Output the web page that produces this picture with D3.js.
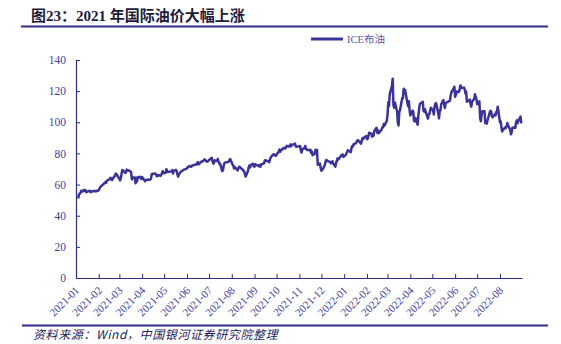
<!DOCTYPE html>
<html><head><meta charset="utf-8">
<script src="https://cdn.jsdelivr.net/npm/d3@7"></script>
<style>
html,body{margin:0;padding:0;background:#fff;}
svg{display:block;}
</style></head>
<body>
<svg id="c" width="561" height="344"></svg>
<script>
// ---------- data ----------
const months = ["2021-01","2021-02","2021-03","2021-04","2021-05","2021-06","2021-07","2021-08","2021-09","2021-10","2021-11","2021-12",
                "2022-01","2022-02","2022-03","2022-04","2022-05","2022-06","2022-07","2022-08"];
const tradingDays = [
 [4,5,6,7,8,11,12,13,14,15,19,20,21,22,25,26,27,28,29],
 [1,2,3,4,5,8,9,10,11,12,15,16,17,18,19,22,23,24,25,26],
 [1,2,3,4,5,8,9,10,11,12,15,16,17,18,19,22,23,24,25,26,29,30,31],
 [1,5,6,7,8,9,12,13,14,15,16,19,20,21,22,23,26,27,28,29,30],
 [3,4,5,6,7,10,11,12,13,14,17,18,19,20,21,24,25,26,27,28],
 [1,2,3,4,7,8,9,10,11,14,15,16,17,18,21,22,23,24,25,28,29,30],
 [1,2,5,6,7,8,9,12,13,14,15,16,19,20,21,22,23,26,27,28,29,30],
 [2,3,4,5,6,9,10,11,12,13,16,17,18,19,20,23,24,25,26,27,30,31],
 [1,2,3,6,7,8,9,10,13,14,15,16,17,20,21,22,23,24,27,28,29,30],
 [1,4,5,6,7,8,11,12,13,14,15,18,19,20,21,22,25,26,27,28,29],
 [1,2,3,4,5,8,9,10,11,12,15,16,17,18,19,22,23,24,25,26,29,30],
 [1,2,3,6,7,8,9,10,13,14,15,16,17,20,21,22,23,24,29,30,31],
 [3,4,5,6,7,10,11,12,13,14,17,18,19,20,21,24,25,26,27,28,31],
 [1,2,3,4,7,8,9,10,11,14,15,16,17,18,21,22,23,24,25,28],
 [1,2,3,4,7,8,9,10,11,14,15,16,17,18,21,22,23,24,25,28,29,30,31],
 [1,4,5,6,7,8,11,12,13,14,18,19,20,21,22,25,26,27,28,29],
 [2,3,4,5,6,9,10,11,12,13,16,17,18,19,20,23,24,25,26,27,30,31],
 [1,2,3,6,7,8,9,10,13,14,15,16,17,20,21,22,23,24,27,28,29,30],
 [1,4,5,6,7,8,11,12,13,14,15,18,19,20,21,22,25,26,27,28,29],
 [1,2,3,4,5,8,9,10,11,12,15,16,17,18,19,22,23,24,25,26,29,30]
];
const brent = [
 [51.09,53.60,54.30,54.38,55.99,55.66,56.58,56.06,56.42,55.10,55.90,56.08,55.10,55.41,55.88,55.91,55.81,55.53,55.88],
 [56.35,57.46,58.46,58.84,59.34,60.56,61.09,61.47,61.14,62.43,63.30,63.35,64.34,63.93,62.91,65.24,65.37,67.04,66.88,66.13],
 [63.69,62.70,64.07,66.74,69.36,68.24,67.52,67.90,69.63,69.22,68.88,68.39,68.00,63.28,64.53,64.62,60.79,64.41,61.95,64.57,64.98,64.14,63.54],
 [64.86,62.15,62.74,63.16,63.20,62.95,63.28,63.67,66.58,66.94,66.77,67.05,66.57,65.32,65.40,66.11,65.65,66.42,67.27,68.56,67.25],
 [67.56,69.88,68.96,68.09,68.28,68.32,68.55,69.32,67.05,68.71,69.46,68.71,66.66,65.11,66.44,68.46,68.65,68.87,69.46,69.63],
 [70.25,71.35,71.31,71.89,71.49,72.22,72.22,72.52,72.69,72.86,73.99,74.39,73.08,73.51,74.90,74.81,75.19,75.56,76.18,74.68,74.76,75.13],
 [75.84,76.17,77.16,74.53,73.43,74.12,75.55,75.16,76.49,74.76,73.47,73.59,68.62,69.35,72.23,73.79,74.10,74.50,74.48,74.74,76.05,76.33],
 [72.89,72.41,70.38,71.29,70.70,69.04,70.63,71.44,71.31,70.59,69.51,69.03,68.23,66.45,65.18,68.75,71.05,72.25,71.07,72.70,73.41,71.63],
 [71.59,73.03,72.61,72.22,71.69,72.60,71.45,72.92,73.51,73.60,75.46,75.67,75.34,74.92,74.36,76.19,77.25,78.09,79.53,79.09,78.64,78.52],
 [79.28,81.26,82.56,81.08,81.95,82.39,83.65,83.42,83.18,84.00,84.86,84.33,85.08,85.82,84.61,85.53,85.99,86.40,84.58,84.32,84.38],
 [84.71,84.72,81.99,80.54,82.74,83.43,84.78,82.64,82.87,82.17,82.05,82.43,80.28,81.24,78.89,79.70,82.31,82.25,82.22,72.72,73.44,70.57],
 [68.87,69.67,69.88,73.08,75.44,75.82,75.15,75.15,74.39,73.70,73.88,75.02,73.52,71.52,73.98,75.29,76.85,76.14,79.23,79.32,77.78],
 [78.98,80.00,80.80,81.99,81.75,80.87,83.72,84.67,84.47,86.06,86.48,87.51,88.44,88.38,87.89,86.27,88.20,89.96,89.34,90.03,91.21],
 [89.16,89.47,91.11,93.27,92.69,90.78,91.55,91.41,94.44,96.48,93.28,94.81,92.97,93.54,95.39,96.84,96.84,99.08,97.93,100.99],
 [104.97,112.93,110.46,118.11,123.21,127.98,111.14,109.33,112.67,106.90,99.91,98.02,106.64,107.93,115.62,115.48,121.60,119.03,120.65,112.48,110.23,113.45,107.91],
 [104.39,107.53,106.64,101.07,100.58,102.78,98.48,104.64,108.78,111.70,113.16,107.25,106.80,108.33,106.65,102.32,104.99,105.32,107.59,109.34],
 [107.58,104.97,110.14,111.90,112.39,105.94,102.46,107.51,107.45,111.55,114.24,111.93,109.11,112.04,112.55,113.42,113.56,114.03,117.40,119.43,121.67,122.84],
 [116.29,117.61,119.72,119.51,120.57,123.58,123.07,122.01,122.27,121.17,118.51,119.81,113.12,114.13,114.65,111.74,110.05,113.12,115.09,117.98,116.26,114.81],
 [111.63,113.50,102.77,100.69,104.65,107.02,107.10,99.49,99.57,99.10,101.16,106.27,107.35,106.92,103.86,103.20,105.15,104.40,106.62,107.14,110.01],
 [100.03,100.54,96.78,94.12,94.92,96.65,96.31,97.40,99.60,98.15,95.10,92.34,93.65,96.59,96.72,96.48,100.22,101.22,99.34,100.99,103.60,99.31]
];
const yTicks = [0,20,40,60,80,100,120,140];
const seriesName = "ICE布油";
const titleText = "图23：2021 年国际油价大幅上涨";
const sourceText = "资料来源：Wind，中国银河证券研究院整理";

// ---------- build ----------
const parse = d3.timeParse("%Y-%m-%d");
const pad = n => (n < 10 ? "0" : "") + n;
const points = [];
months.forEach((m, i) => {
  tradingDays[i].forEach((d, j) => {
    points.push({date: parse(m + "-" + pad(d)), value: brent[i][j]});
  });
});
const monthStarts = months.map(m => parse(m + "-01"));

const svg = d3.select("#c");
const navy = "#2b2a85";
const lineColor = "#3a3398";
const labelColor = "#3f3f9e";
const serif = "'Liberation Serif','Times New Roman',serif";

const x = d3.scaleTime()
  .domain([parse("2021-01-01"), parse("2022-08-31")])
  .range([76, 522]);
const y = d3.scaleLinear().domain([0, 140]).range([278, 60]);

// title
svg.append("text").attr("x", 31).attr("y", 21)
  .style("font-family", "'Liberation Serif','Noto Sans CJK SC',serif")
  .style("font-weight", "bold").style("font-size", "15px").attr("fill", "#1c1c3c")
  .text(titleText);
svg.append("line").attr("x1", 21).attr("x2", 548).attr("y1", 26.5).attr("y2", 26.5)
  .attr("stroke", navy).attr("stroke-width", 2);

// legend
svg.append("line").attr("x1", 311).attr("x2", 343).attr("y1", 39).attr("y2", 39)
  .attr("stroke", lineColor).attr("stroke-width", 3);
svg.append("text").attr("x", 347).attr("y", 42.5)
  .style("font-family", "'Liberation Serif','Noto Sans CJK SC',serif")
  .style("font-size", "10.5px").attr("fill", "#5a5aa6").text(seriesName);

// y axis
const yAxis = d3.axisLeft(y).tickValues(yTicks).tickSizeInner(-4).tickSizeOuter(0).tickPadding(10);
const gy = svg.append("g").attr("transform", "translate(76,0)").call(yAxis);
gy.select(".domain").attr("stroke", navy).attr("stroke-width", 1.2);
gy.selectAll(".tick line").attr("stroke", navy);
gy.selectAll(".tick text").style("font-family", serif).style("font-size", "11.5px").attr("fill", labelColor);

// x axis
const xAxis = d3.axisBottom(x).tickValues(monthStarts.slice(1)).tickSizeInner(-4).tickSizeOuter(0).tickFormat("");
const gx = svg.append("g").attr("transform", "translate(0,278)").call(xAxis);
gx.select(".domain").attr("stroke", navy).attr("stroke-width", 1.2);
gx.selectAll(".tick line").attr("stroke", navy);

svg.append("g").selectAll("text").data(months).join("text")
  .attr("transform", (d, i) => `translate(${x(monthStarts[i]) + 4},${291}) rotate(-45)`)
  .attr("text-anchor", "end")
  .style("font-family", serif).style("font-size", "11px").attr("fill", labelColor)
  .text(d => d);

// line
const line = d3.line().x(d => x(d.date)).y(d => y(d.value));
svg.append("path").datum(points).attr("d", line)
  .attr("fill", "none").attr("stroke", lineColor).attr("stroke-width", 2.5)
  .attr("stroke-linejoin", "round");

// bottom rule and source
svg.append("line").attr("x1", 22).attr("x2", 548).attr("y1", 325.5).attr("y2", 325.5)
  .attr("stroke", navy).attr("stroke-width", 2);
svg.append("text").attr("x", 33).attr("y", 338.5)
  .style("font-family", "'Noto Sans CJK SC',sans-serif").style("font-style", "italic")
  .style("font-size", "12px").style("letter-spacing", "0.6px").attr("fill", "#1c1c5c").text(sourceText);
</script>
</body></html>
